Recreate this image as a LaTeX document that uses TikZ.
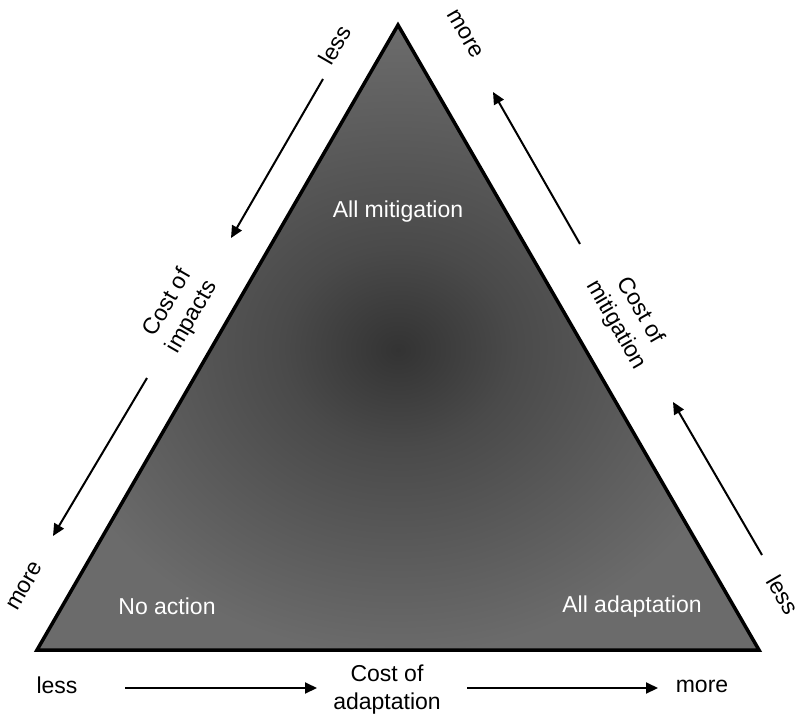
\documentclass[tikz,border=0pt]{standalone}
\usepackage{fontspec}
\setmainfont{Liberation Sans}
\usetikzlibrary{arrows.meta}
\definecolor{shadecore}{gray}{0.2}
\definecolor{shademid}{gray}{0.29}
\definecolor{shadeedge}{gray}{0.42}
\pgfdeclareradialshading{triangleshade}{\pgfpoint{0bp}{-1bp}}{color(0bp)=(shadecore); color(8bp)=(shademid); color(25bp)=(shadeedge); color(50bp)=(shadeedge)}
\begin{document}
\begin{tikzpicture} [
                x=1pt, y=-1pt,
                outline/.style = {draw, line width=3.5pt, line join=miter},
                corner label/.style = {text=white, font=\fontsize{23}{28}\selectfont},
                side label/.style = {font=\fontsize{23}{28}\selectfont, align=center},
                cost arrow/.style = {draw, line width=2pt, -{Triangle[length=12pt,width=11pt]}},
            ]
            \useasboundingbox (0,0) rectangle (800,717);
            % First we place the corners and shade the triangle
            \foreach \x/\y/\name in {
                    398/25/top, 37/650/left, 759/650/right}
                \coordinate (\name) at (\x,\y);
            \shade[shading=triangleshade] (top) -- (left) -- (right) -- cycle;
            \path[outline] (top) -- (left) -- (right) -- cycle;
            % labels inside the corners
            \node[corner label] (mitigation) at (398,212) {All mitigation};
            \node[corner label] (noaction) at (167,606) {No action};
            \node[corner label] (adaptation) at (632,607) {All adaptation};
            % cost labels along the sides
            \node[side label, rotate=60] (impacts) at (180,310) {Cost of\\impacts};
            \node[side label, rotate=-60] (costmit) at (628,318) {Cost of\\mitigation};
            \node[side label] (costadapt) at (387,690) {Cost of\\adaptation};
            \foreach \x/\y/\name/\angle/\word in {
                    335/45/impless/60/less, 25/586/impmore/60/more,
                    465/34/mitmore/-60/more, 783/595/mitless/-60/less,
                    57/685/adaless/0/less, 702/686/adamore/0/more}
                \node[side label, rotate=\angle] (\name) at (\x,\y) {\word};
            % end points of the arrows
            \foreach \x/\y/\name in {
                    323/79/ia, 231/238/ib, 147/378/ic, 53/536/id,
                    762/555/ma, 673/402/mb, 580/244/mc, 493/92/md,
                    125/688/aa, 317/688/ab, 467/688/ac, 658/688/ad}
                \coordinate (\name) at (\x,\y);
            \foreach \source/ \dest in {
                    ia/ib, ic/id, ma/mb, mc/md, aa/ab, ac/ad}
                \path[cost arrow] (\source) -- (\dest);
        \end{tikzpicture}
\end{document}
